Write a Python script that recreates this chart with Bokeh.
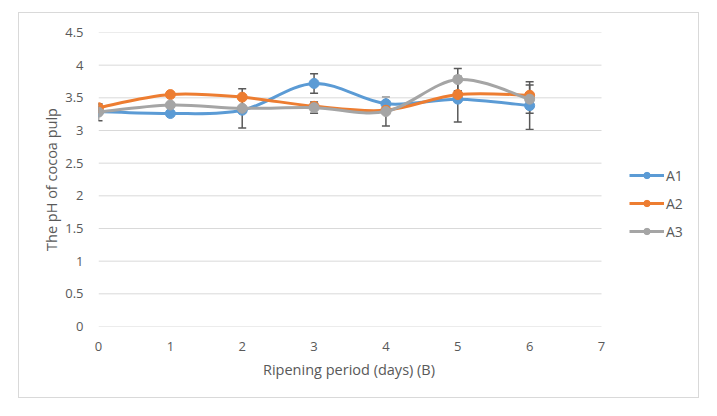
from bokeh.plotting import figure
from bokeh.models import (ColumnDataSource, Whisker, TeeHead, Legend, LegendItem,
                          FixedTicker, Range1d, Spacer, Title)
from bokeh.layouts import column, row
from bokeh.embed import file_html
from bokeh.resources import INLINE

days = [0, 1, 2, 3, 4, 5, 6]
a1 = [3.29, 3.26, 3.31, 3.72, 3.41, 3.48, 3.38]
a2 = [3.35, 3.55, 3.51, 3.37, 3.31, 3.55, 3.54]
a3 = [3.28, 3.39, 3.34, 3.35, 3.29, 3.78, 3.48]
a1_err = [0.0, 0.0, 0.0, 0.15, 0.0, 0.35, 0.365]
a3_err = [0.13, 0.03, 0.30, 0.085, 0.22, 0.17, 0.215]
names = ["A1", "A2", "A3"]
colors = ["#5B9BD5", "#ED7D31", "#A5A5A5"]
y_ticks = [0, 0.5, 1, 1.5, 2, 2.5, 3, 3.5, 4, 4.5]
x_ticks = [0, 1, 2, 3, 4, 5, 6, 7]
x_title = "Ripening period (days) (B)"
y_title = "The pH of cocoa pulp"

FONT = "Open Sans"
TXT = "#595959"
GRID = "#D9D9D9"

W, H = 681, 386
LEFT, RIGHT, TOP, BOTTOM = 79, 10, 19, 73
x_max = x_ticks[-1]
x_plot_px = 503  # pixels spanned by 0..7
frame_w = W - LEFT - RIGHT
x_end = x_max * frame_w / x_plot_px
x_title_w = 174

p = figure(width=W, height=H, output_backend="svg", toolbar_location=None,
           x_range=Range1d(0, x_end), y_range=Range1d(y_ticks[0], y_ticks[-1]),
           min_border_left=LEFT, min_border_right=RIGHT, min_border_top=TOP,
           min_border_bottom=BOTTOM)
p.styles = {"border": "1px solid #D9D9D9"}
p.outline_line_color = None

p.xgrid.grid_line_color = None
p.ygrid.grid_line_color = None
p.segment(x0=[x_ticks[0]] * len(y_ticks), x1=[x_max] * len(y_ticks),
          y0=y_ticks, y1=y_ticks, line_color=GRID, line_width=1)

p.yaxis.ticker = FixedTicker(ticks=y_ticks)
p.xaxis.ticker = FixedTicker(ticks=x_ticks)
p.xaxis.bounds = (x_ticks[0], x_max)
for ax in (p.xaxis[0], p.yaxis[0]):
    ax.axis_line_color = None
    ax.major_tick_line_color = None
    ax.minor_tick_line_color = None
    ax.major_label_text_font = FONT
    ax.major_label_text_font_size = "13px"
    ax.major_label_text_color = TXT
    ax.axis_label_text_font = FONT
    ax.axis_label_text_font_size = "14.5px"
    ax.axis_label_text_font_style = "normal"
    ax.axis_label_text_color = TXT
p.yaxis.axis_label = y_title
p.xaxis.major_label_standoff = 9
p.yaxis.major_label_standoff = 9
p.yaxis.axis_label_standoff = 1

xt = Title(text=x_title, align="left", offset=(x_plot_px - x_title_w) / 2,
           text_font=FONT, text_font_size="14.5px", text_font_style="normal",
           text_color=TXT, standoff=8)
p.add_layout(xt, "below")


def bezier_controls(xs, ys):
    n = len(xs)
    x0, y0, x1, y1, cx0, cy0, cx1, cy1 = [], [], [], [], [], [], [], []
    for i in range(n - 1):
        ip = max(i - 1, 0)
        inn = min(i + 2, n - 1)
        x0.append(xs[i]); y0.append(ys[i])
        x1.append(xs[i + 1]); y1.append(ys[i + 1])
        cx0.append(xs[i] + (xs[i + 1] - xs[ip]) / 6.0)
        cy0.append(ys[i] + (ys[i + 1] - ys[ip]) / 6.0)
        cx1.append(xs[i + 1] - (xs[inn] - xs[i]) / 6.0)
        cy1.append(ys[i + 1] - (ys[inn] - ys[i]) / 6.0)
    return dict(x0=x0, y0=y0, x1=x1, y1=y1, cx0=cx0, cy0=cy0, cx1=cx1, cy1=cy1)


for ys, errs in [(a1, a1_err), (a3, a3_err)]:
    bx, lo, hi = [], [], []
    for d, v, e in zip(days, ys, errs):
        if e > 0:
            bx.append(d); lo.append(v - e); hi.append(v + e)
    es = ColumnDataSource(dict(base=bx, lower=lo, upper=hi))
    w = Whisker(source=es, base="base", lower="lower", upper="upper",
                line_color="#595959", line_width=1.5,
                upper_head=TeeHead(size=8, line_color="#595959", line_width=1.5),
                lower_head=TeeHead(size=8, line_color="#595959", line_width=1.5))
    p.add_layout(w)

items = []
for name, ys, col in zip(names, [a1, a2, a3], colors):
    src = ColumnDataSource(bezier_controls(days, ys))
    r1 = p.bezier(x0="x0", y0="y0", x1="x1", y1="y1", cx0="cx0", cy0="cy0",
                  cx1="cx1", cy1="cy1", source=src, line_color=col, line_width=3)
    r2 = p.scatter(days, ys, size=10, fill_color=col, line_color=col)
    items.append(LegendItem(label=name, renderers=[r1, r2]))

legend = Legend(items=items, location=(531, 85), label_text_font=FONT,
                label_text_font_size="14px", label_text_color=TXT,
                glyph_width=35, glyph_height=16, label_height=20, spacing=8,
                padding=0, border_line_color=None, background_fill_alpha=0,
                label_standoff=2, margin=0)
p.add_layout(legend, "center")

layout = column(Spacer(height=12), row(Spacer(width=18), p))
open("out.html", "w").write(file_html(layout, INLINE))
